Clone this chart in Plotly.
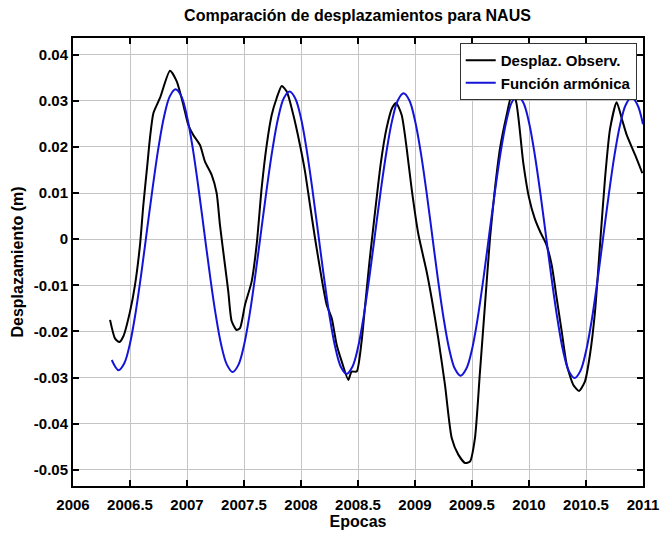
import plotly.graph_objects as go

# Observed displacement (Desplaz. Observ.)
obs_t = [2006.325, 2006.368, 2006.406, 2006.441, 2006.500, 2006.544, 2006.588, 2006.617, 2006.652, 2006.675,
         2006.705, 2006.763, 2006.851, 2006.910, 2006.968, 2007.011, 2007.055, 2007.114, 2007.158, 2007.217,
         2007.260, 2007.289, 2007.333, 2007.362, 2007.392, 2007.436, 2007.465, 2007.509, 2007.567, 2007.611,
         2007.655, 2007.699, 2007.743, 2007.787, 2007.831, 2007.875, 2007.933, 2007.991, 2008.035, 2008.079,
         2008.123, 2008.181, 2008.225, 2008.269, 2008.313, 2008.357, 2008.415, 2008.444, 2008.488, 2008.530,
         2008.560, 2008.600, 2008.650, 2008.700, 2008.750, 2008.800, 2008.835, 2008.883, 2008.927, 2008.970,
         2009.030, 2009.102, 2009.146, 2009.204, 2009.263, 2009.322, 2009.380, 2009.439, 2009.482, 2009.526,
         2009.570, 2009.614, 2009.658, 2009.702, 2009.746, 2009.804, 2009.850, 2009.885, 2009.950, 2010.000,
         2010.050, 2010.100, 2010.150, 2010.199, 2010.243, 2010.287, 2010.331, 2010.389, 2010.439, 2010.491,
         2010.535, 2010.579, 2010.623, 2010.667, 2010.711, 2010.769, 2010.813, 2010.857, 2010.930, 2010.994]
obs_v = [-0.0175, -0.0215, -0.0223, -0.0211, -0.0157, -0.0099, -0.0012, 0.0074, 0.0161, 0.0219,
         0.0273, 0.0306, 0.0365, 0.0342, 0.0291, 0.0248, 0.0226, 0.0204, 0.0168, 0.0139,
         0.0100, 0.0031, -0.0056, -0.0113, -0.0178, -0.0197, -0.0193, -0.0142, -0.0092, -0.0012,
         0.0111, 0.0204, 0.0269, 0.0306, 0.0332, 0.0320, 0.0269, 0.0204, 0.0147, 0.0074,
         0.0002, -0.0085, -0.0142, -0.0171, -0.0229, -0.0265, -0.0305, -0.0287, -0.0287, -0.0225,
         -0.0150, -0.0050, 0.0060, 0.0165, 0.0240, 0.0285, 0.0295, 0.0269, 0.0197, 0.0110,
         0.0010, -0.0070, -0.0128, -0.0215, -0.0316, -0.0431, -0.0467, -0.0485, -0.0482, -0.0431,
         -0.0287, -0.0142, 0.0002, 0.0111, 0.0197, 0.0269, 0.0314, 0.0300, 0.0165, 0.0090,
         0.0045, 0.0015, -0.0010, -0.0056, -0.0128, -0.0200, -0.0272, -0.0316, -0.0329, -0.0308,
         -0.0250, -0.0157, -0.0012, 0.0132, 0.0239, 0.0297, 0.0262, 0.0226, 0.0183, 0.0143]

# Harmonic function (Función armónica)
harm_t = [2006.34, 2006.40, 2006.45, 2006.50, 2006.55, 2006.60, 2006.65, 2006.70, 2006.75, 2006.80,
          2006.85, 2006.90, 2006.95, 2007.00, 2007.05, 2007.10, 2007.15, 2007.20, 2007.25, 2007.30,
          2007.35, 2007.40, 2007.45, 2007.50, 2007.55, 2007.60, 2007.65, 2007.70, 2007.75, 2007.80,
          2007.85, 2007.90, 2007.95, 2008.00, 2008.05, 2008.10, 2008.15, 2008.20, 2008.25, 2008.30,
          2008.35, 2008.40, 2008.45, 2008.50, 2008.55, 2008.60, 2008.65, 2008.70, 2008.75, 2008.80,
          2008.85, 2008.90, 2008.95, 2009.00, 2009.05, 2009.10, 2009.15, 2009.20, 2009.25, 2009.30,
          2009.35, 2009.40, 2009.45, 2009.50, 2009.55, 2009.60, 2009.65, 2009.70, 2009.75, 2009.80,
          2009.85, 2009.90, 2009.95, 2010.00, 2010.05, 2010.10, 2010.15, 2010.20, 2010.25, 2010.30,
          2010.35, 2010.40, 2010.45, 2010.50, 2010.55, 2010.60, 2010.65, 2010.70, 2010.75, 2010.80,
          2010.85, 2010.90, 2010.95, 2011.00]
harm_v = [-0.0262, -0.0284, -0.0269, -0.0226, -0.0158, -0.0073, 0.0021, 0.0114, 0.0199, 0.0267,
          0.0310, 0.0325, 0.0310, 0.0266, 0.0198, 0.0112, 0.0018, -0.0076, -0.0161, -0.0229,
          -0.0272, -0.0288, -0.0273, -0.0230, -0.0162, -0.0077, 0.0017, 0.0110, 0.0195, 0.0263,
          0.0306, 0.0320, 0.0305, 0.0262, 0.0193, 0.0108, 0.0014, -0.0080, -0.0166, -0.0234,
          -0.0277, -0.0292, -0.0277, -0.0235, -0.0167, -0.0082, 0.0012, 0.0106, 0.0190, 0.0258,
          0.0301, 0.0316, 0.0301, 0.0257, 0.0189, 0.0104, 0.0010, -0.0085, -0.0170, -0.0238,
          -0.0281, -0.0296, -0.0281, -0.0239, -0.0171, -0.0086, 0.0008, 0.0101, 0.0186, 0.0254,
          0.0297, 0.0311, 0.0296, 0.0253, 0.0184, 0.0099, 0.0005, -0.0089, -0.0174, -0.0243,
          -0.0286, -0.0301, -0.0286, -0.0243, -0.0176, -0.0091, 0.0003, 0.0097, 0.0182, 0.0249,
          0.0292, 0.0307, 0.0292, 0.0249]

x_ticks = [2006, 2006.5, 2007, 2007.5, 2008, 2008.5, 2009, 2009.5, 2010, 2010.5, 2011]
x_labels = ["2006", "2006.5", "2007", "2007.5", "2008", "2008.5", "2009", "2009.5", "2010", "2010.5", "2011"]
y_ticks = [0.04, 0.03, 0.02, 0.01, 0, -0.01, -0.02, -0.03, -0.04, -0.05]
y_labels = ["0.04", "0.03", "0.02", "0.01", "0", "-0.01", "-0.02", "-0.03", "-0.04", "-0.05"]

FONT = "Liberation Sans, Arial, sans-serif"

fig = go.Figure()
fig.add_trace(go.Scatter(x=obs_t, y=obs_v, mode="lines", name="<b>Desplaz. Observ.</b>",
                         line=dict(color="#000000", width=2, shape="spline", smoothing=0.6)))
fig.add_trace(go.Scatter(x=harm_t, y=harm_v, mode="lines", name="<b>Función armónica</b>",
                         line=dict(color="#1414d8", width=2, shape="spline", smoothing=1)))

axis_common = dict(showline=True, linecolor="black", linewidth=2, mirror="ticks",
                   ticks="inside", ticklen=6, tickwidth=1.5, tickcolor="black",
                   showgrid=True, gridcolor="#c4c4c4", gridwidth=1, zeroline=False,
                   automargin=False,
                   tickfont=dict(family=FONT, size=15, color="black", weight="bold"))

fig.update_xaxes(range=[2006, 2011], tickvals=x_ticks, ticktext=x_labels, ticklabelstandoff=4,
                 title=dict(text="<b>Epocas</b>", font=dict(family=FONT, size=16, color="black"), standoff=4),
                 **axis_common)
fig.update_yaxes(range=[-0.0535, 0.0436], tickvals=y_ticks, ticktext=y_labels,
                 title=dict(text="<b>Desplazamiento (m)</b>", font=dict(family=FONT, size=16, color="black"), standoff=6),
                 **axis_common)

fig.update_layout(
    width=662, height=533,
    margin=dict(l=73, r=19, t=38, b=47),
    paper_bgcolor="white", plot_bgcolor="white",
    title=dict(text="<b>Comparación de desplazamientos para NAUS</b>", x=0.54, xanchor="center",
               y=1 - 15 / 533, yanchor="middle", yref="container",
               font=dict(family=FONT, size=16, color="black")),
    legend=dict(x=0.989, y=0.989, xanchor="right", yanchor="top",
                bgcolor="white", bordercolor="#333333", borderwidth=1,
                font=dict(family=FONT, size=15, color="black"),
                itemwidth=30, tracegroupgap=0),
    showlegend=True,
)

fig.write_html("out.html")
